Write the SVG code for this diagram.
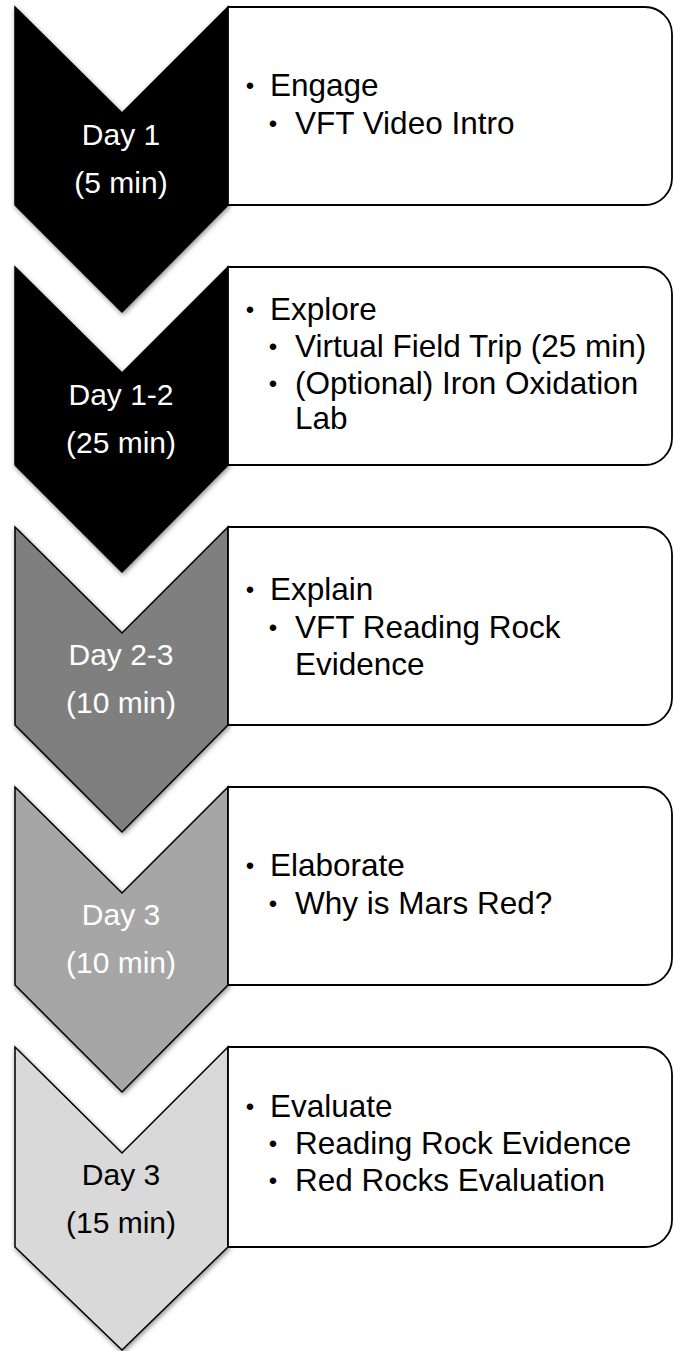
<svg xmlns="http://www.w3.org/2000/svg" width="674" height="1351" viewBox="0 0 674 1351">
<style>
.chev{stroke:#000;stroke-width:1.5;stroke-linejoin:miter;filter:url(#sh)}
.box{fill:#fff;stroke:#000;stroke-width:1.8}
.day{font-family:"Liberation Sans",Arial,sans-serif;font-size:30px;text-anchor:middle}
.txt{font-family:"Liberation Sans",Arial,sans-serif;font-size:31.5px;fill:#000}
.bul{font-family:"Liberation Sans",Arial,sans-serif;font-size:24px;fill:#000;text-anchor:middle}
.w{fill:#fff}
.k{fill:#000}
</style>
<defs>
<filter id="sh" x="-20%" y="-20%" width="140%" height="140%">
<feDropShadow dx="1" dy="2" stdDeviation="2.5" flood-color="#000" flood-opacity="0.45"/>
</filter>
</defs>
<g id="stage1">
<polygon class="chev" fill="#000" points="15,7 122,113 228,7 228,205 122,312 15,205"/>
<path class="box" d="M228,7 H645 A27,27 0 0 1 672,34 V178 A27,27 0 0 1 645,205 H228 Z"/>
<text class="day w" x="121" y="145">Day 1</text>
<text class="day w" x="121" y="193">(5 min)</text>
<text class="bul" x="250" y="94">•</text>
<text class="txt" x="270" y="96">Engage</text>
<text class="bul" x="273" y="132">•</text>
<text class="txt" x="295" y="134">VFT Video Intro</text>
</g>
<g id="stage2">
<polygon class="chev" fill="#000" points="15,267 122,373 228,267 228,465 122,572 15,465"/>
<path class="box" d="M228,267 H645 A27,27 0 0 1 672,294 V438 A27,27 0 0 1 645,465 H228 Z"/>
<text class="day w" x="121" y="405">Day 1-2</text>
<text class="day w" x="121" y="453">(25 min)</text>
<text class="bul" x="250" y="318">•</text>
<text class="txt" x="270" y="320">Explore</text>
<text class="bul" x="273" y="355">•</text>
<text class="txt" x="295" y="357">Virtual Field Trip (25 min)</text>
<text class="bul" x="273" y="392">•</text>
<text class="txt" x="295" y="394">(Optional) Iron Oxidation</text>
<text class="txt" x="295" y="429">Lab</text>
</g>
<g id="stage3">
<polygon class="chev" fill="#7f7f7f" points="15,527 122,633 228,527 228,725 122,832 15,725"/>
<path class="box" d="M228,527 H645 A27,27 0 0 1 672,554 V698 A27,27 0 0 1 645,725 H228 Z"/>
<text class="day w" x="121" y="665">Day 2-3</text>
<text class="day w" x="121" y="713">(10 min)</text>
<text class="bul" x="250" y="598">•</text>
<text class="txt" x="270" y="600">Explain</text>
<text class="bul" x="273" y="636">•</text>
<text class="txt" x="295" y="638">VFT Reading Rock</text>
<text class="txt" x="295" y="675">Evidence</text>
</g>
<g id="stage4">
<polygon class="chev" fill="#a6a6a6" points="15,787 122,893 228,787 228,985 122,1092 15,985"/>
<path class="box" d="M228,787 H645 A27,27 0 0 1 672,814 V958 A27,27 0 0 1 645,985 H228 Z"/>
<text class="day w" x="121" y="925">Day 3</text>
<text class="day w" x="121" y="973">(10 min)</text>
<text class="bul" x="250" y="874">•</text>
<text class="txt" x="270" y="876">Elaborate</text>
<text class="bul" x="273" y="912">•</text>
<text class="txt" x="295" y="914">Why is Mars Red?</text>
</g>
<g id="stage5">
<polygon class="chev" fill="#d9d9d9" points="15,1047 122,1153 228,1047 228,1247 122,1350 15,1247"/>
<path class="box" d="M228,1047 H645 A27,27 0 0 1 672,1074 V1220 A27,27 0 0 1 645,1247 H228 Z"/>
<text class="day k" x="121" y="1185">Day 3</text>
<text class="day k" x="121" y="1233">(15 min)</text>
<text class="bul" x="250" y="1115">•</text>
<text class="txt" x="270" y="1117">Evaluate</text>
<text class="bul" x="273" y="1152">•</text>
<text class="txt" x="295" y="1154">Reading Rock Evidence</text>
<text class="bul" x="273" y="1189">•</text>
<text class="txt" x="295" y="1191">Red Rocks Evaluation</text>
</g>
<g id="connectors"></g>
</svg>
